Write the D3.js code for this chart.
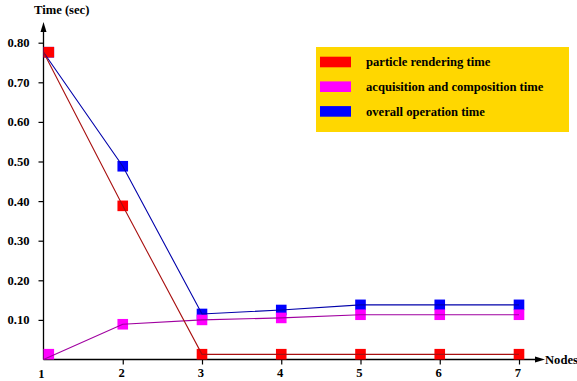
<!DOCTYPE html>
<html>
<head>
<meta charset="utf-8">
<script src="https://cdn.jsdelivr.net/npm/d3@7/dist/d3.min.js"></script>
<style>
  html, body { margin: 0; padding: 0; background: #fff; }
</style>
</head>
<body>
<svg id="chart" width="577" height="381"></svg>
<script>
// Number of nodes used
const nodes = [1, 2, 3, 4, 5, 6, 7];

// Timing per node count (seconds)
const renderingTime   = [0.776, 0.388, 0.013, 0.013, 0.013, 0.013, 0.013];
const compositionTime = [0.0,   0.089, 0.100, 0.105, 0.113, 0.113, 0.113];
const overallTime     = [0.776, 0.488, 0.115, 0.125, 0.138, 0.138, 0.138];

const yTicks = [0.1, 0.2, 0.3, 0.4, 0.5, 0.6, 0.7, 0.8];

const seriesNames = ["particle rendering time", "acquisition and composition time", "overall operation time"];

const FONT = "'Liberation Serif', 'Times New Roman', Times, serif";

const svg = d3.select("#chart");

function styleText(sel, size = 12.6) {
  return sel.style("font-family", FONT).style("font-weight", "bold")
    .style("font-size", size + "px").attr("fill", "#000");
}

const x = d3.scaleLinear().domain([1, 7]).range([43.5, 519]);
const y = d3.scaleLinear().domain([0, 0.8]).range([359.5, 42.7]);

const x0 = x(1), yBase = y(0);

// Y axis with arrow
const yAxis = d3.axisLeft(y).tickValues(yTicks).tickSize(5).tickPadding(9)
  .tickFormat(d3.format(".2f"));
const gy = svg.append("g").attr("transform", `translate(${x0},0)`).call(yAxis);
gy.select(".domain").remove();
gy.selectAll("line").attr("stroke", "#000").attr("stroke-width", 1.2);
styleText(gy.selectAll("text"));

// X axis with arrow
const xAxis = d3.axisBottom(x).tickValues(nodes.slice(1)).tickSize(5).tickPadding(4)
  .tickFormat(d3.format("d"));
const gx = svg.append("g").attr("transform", `translate(0,${yBase})`).call(xAxis);
gx.select(".domain").remove();
gx.selectAll("line").attr("stroke", "#000").attr("stroke-width", 1.2);
styleText(gx.selectAll("text")).attr("dx", -1.5);
// label for node 1 sits just below the origin
styleText(svg.append("text").attr("x", x0 - 2).attr("y", yBase + 18).attr("text-anchor", "middle").text(nodes[0]));

svg.append("line").attr("x1", x0).attr("x2", x0).attr("y1", yBase).attr("y2", 30)
  .attr("stroke", "#000").attr("stroke-width", 1.3);
svg.append("path").attr("d", `M${x0},22 L${x0 - 3},32 L${x0 + 3},32 Z`).attr("fill", "#000");

svg.append("line").attr("x1", x0).attr("x2", 537).attr("y1", yBase).attr("y2", yBase)
  .attr("stroke", "#000").attr("stroke-width", 1.3);
svg.append("path").attr("d", `M545,${yBase} L535,${yBase - 3} L535,${yBase + 3} Z`).attr("fill", "#000");

styleText(svg.append("text").attr("x", 545).attr("y", yBase + 4.5).text("Nodes"));
styleText(svg.append("text").attr("x", 34).attr("y", 13.5).text("Time (sec)"));

// Series: markers first, connecting lines drawn over them
const series = [
  { values: overallTime,     marker: "#0000ff", line: "#0000aa" },
  { values: compositionTime, marker: "#ff00ff", line: "#a000a0" },
  { values: renderingTime,   marker: "#ff0000", line: "#a81010" }
];

const half = 5.3;
const line = d3.line().x((d, i) => x(nodes[i])).y(d => y(d));

series.forEach(s => {
  svg.append("g").selectAll("rect").data(s.values).join("rect")
    .attr("x", (d, i) => Math.max(x(nodes[i]), x0 + half) - half)
    .attr("y", d => Math.min(y(d), yBase - half) - half)
    .attr("width", half * 2).attr("height", half * 2)
    .attr("fill", s.marker);
});
series.forEach(s => {
  svg.append("path").datum(s.values).attr("d", line)
    .attr("fill", "none").attr("stroke", s.line).attr("stroke-width", 1.1);
});

// Legend
const legend = svg.append("g");
legend.append("rect").attr("x", 316).attr("y", 47).attr("width", 253).attr("height", 85).attr("fill", "#ffd700");
const legendColors = ["#ff0000", "#ff00ff", "#0000ff"];
seriesNames.forEach((name, i) => {
  const cy = 62 + i * 24.7;
  legend.append("rect").attr("x", 320).attr("y", cy - 5.3).attr("width", 31).attr("height", 10.6)
    .attr("fill", legendColors[i]);
  styleText(legend.append("text").attr("x", 366).attr("y", cy + 4.3).text(name));
});
</script>
</body>
</html>
